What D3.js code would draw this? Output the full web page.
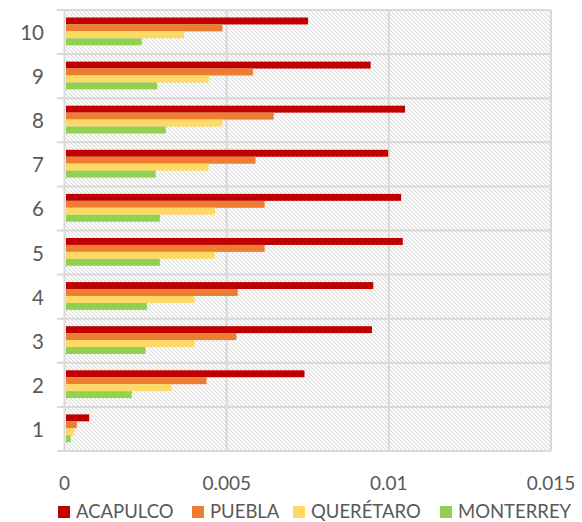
<!DOCTYPE html>
<html>
<head>
<meta charset="utf-8">
<script src="https://cdn.jsdelivr.net/npm/d3@7"></script>
<style>
  html, body { margin: 0; padding: 0; background: #ffffff; }
  svg text { font-family: Lato, "Open Sans", sans-serif; fill: #595959; }
</style>
</head>
<body>
<svg id="chart" width="582" height="522"></svg>
<script>
// ---- data ----
const categories = ["1", "2", "3", "4", "5", "6", "7", "8", "9", "10"];
const seriesNames = ["ACAPULCO", "PUEBLA", "QUERÉTARO", "MONTERREY"];
const acapulco  = [0.00076, 0.00740, 0.00948, 0.00952, 0.01043, 0.01038, 0.00998, 0.01050, 0.00944, 0.00751];
const puebla    = [0.00038, 0.00438, 0.00530, 0.00534, 0.00617, 0.00617, 0.00589, 0.00645, 0.00581, 0.00487];
const queretaro = [0.00030, 0.00330, 0.00401, 0.00401, 0.00463, 0.00464, 0.00444, 0.00487, 0.00445, 0.00369];
const monterrey = [0.00019, 0.00207, 0.00250, 0.00254, 0.00294, 0.00294, 0.00281, 0.00312, 0.00286, 0.00238];
const xTicks = [0, 0.005, 0.01, 0.015];
const xTickLabels = ["0", "0.005", "0.01", "0.015"];
const colors = ["#C00000", "#ED7D31", "#FFD966", "#92D050"];

const seriesValues = [acapulco, puebla, queretaro, monterrey];

// ---- layout ----
const svg = d3.select("#chart");
const plotL = 64.5, plotR = 551, plotT = 10, plotB = 451;
const gridColor = "#d9d9d9";

const x = d3.scaleLinear().domain([0, 0.015]).range([plotL, plotR]);
const y = d3.scaleBand().domain(categories.slice().reverse()).range([plotT, plotB]).padding(0);
const step = y.bandwidth();
const inner = d3.scaleBand().domain(seriesNames)
  .range([step * 0.17, step * 0.80]).padding(0);

// hatch pattern
const defs = svg.append("defs");
const pat = defs.append("pattern")
  .attr("id", "hatch").attr("patternUnits", "userSpaceOnUse")
  .attr("width", 4).attr("height", 4);
pat.append("rect").attr("width", 4).attr("height", 4).attr("fill", "#ffffff");
pat.append("path")
  .attr("d", "M-1,-1 L5,5 M-1,3 L1,5 M3,-1 L5,1")
  .attr("stroke", "#dcdcdc").attr("stroke-width", 1.1);

svg.append("rect")
  .attr("x", plotL).attr("y", plotT)
  .attr("width", plotR - plotL).attr("height", plotB - plotT)
  .attr("fill", "url(#hatch)");

// vertical gridlines
svg.append("g").selectAll("line").data(xTicks.slice(1)).join("line")
  .attr("x1", d => x(d)).attr("x2", d => x(d))
  .attr("y1", plotT).attr("y2", plotB)
  .attr("stroke", gridColor).attr("stroke-width", 2);

// horizontal gridlines (category boundaries)
const boundaries = categories.slice().reverse().map(c => y(c)).concat([plotB]);
svg.append("g").selectAll("line").data(boundaries).join("line")
  .attr("x1", plotL - 7.5).attr("x2", plotR)
  .attr("y1", d => d).attr("y2", d => d)
  .attr("stroke", gridColor).attr("stroke-width", 2);

// axis line
svg.append("line")
  .attr("x1", plotL).attr("x2", plotL).attr("y1", plotT).attr("y2", plotB)
  .attr("stroke", gridColor).attr("stroke-width", 2);

// bars
const groups = svg.append("g").selectAll("g").data(categories).join("g")
  .attr("transform", c => `translate(0,${y(c)})`);
groups.selectAll("rect")
  .data((c, i) => seriesNames.map((s, j) => ({ s, v: seriesValues[j][i], j })))
  .join("rect")
  .attr("x", x(0) + 1.5)
  .attr("y", d => inner(d.s))
  .attr("width", d => Math.max(0, x(d.v) - x(0) - 1.5))
  .attr("height", inner.bandwidth())
  .attr("fill", d => colors[d.j]);

// y labels
svg.append("g").selectAll("text").data(categories).join("text")
  .attr("x", 44).attr("y", c => y(c) + step / 2)
  .attr("text-anchor", "end").attr("dominant-baseline", "central")
  .attr("font-size", 20.5)
  .text(c => c);

// x tick labels
svg.append("g").selectAll("text").data(xTicks).join("text")
  .attr("x", d => x(d)).attr("y", 490)
  .attr("text-anchor", "middle")
  .attr("font-size", 19)
  .text((d, i) => xTickLabels[i]);

// legend
const legendX = [58, 192, 293, 440];
const leg = svg.append("g").selectAll("g").data(seriesNames).join("g")
  .attr("transform", (d, i) => `translate(${legendX[i]},0)`);
leg.append("rect").attr("x", 0).attr("y", 506).attr("width", 12).attr("height", 12)
  .attr("fill", (d, i) => colors[i]);
leg.append("text").attr("x", 18).attr("y", 517.5).attr("font-size", 18.5)
  .text(d => d);
</script>
</body>
</html>
